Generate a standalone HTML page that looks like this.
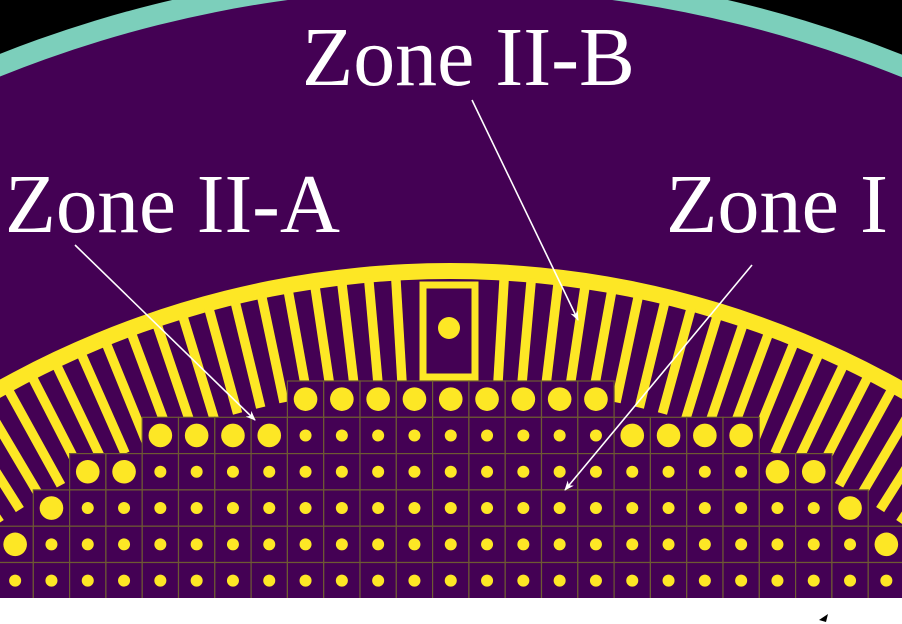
<!DOCTYPE html>
<html><head><meta charset="utf-8"><style>
html,body{margin:0;padding:0;background:#fff;width:902px;height:624px;overflow:hidden;}
svg{display:block;}
</style></head><body>
<svg id="s" width="902" height="624" viewBox="0 0 902 624">
<rect x="0" y="0" width="902" height="598" fill="#000"/>
<g id="vessel"></g>
<g id="slats"></g>
<g id="grid"></g>
<g id="labels"></g>
</svg>
<script>
const rowStartCol=[8,4,2,1,0,0];
const rowEndCol=[16,20,22,23,24,24];
const largeCols=[[8,9,10,11,12,13,14,15,16],[4,5,6,7,17,18,19,20],[2,3,21,22],[1,23],[0,24],[]];
const NS='http://www.w3.org/2000/svg';
const CX=450,CY=1190,P=36.3,X0=-3,Y0=381;
function mk(t,a,p){const e=document.createElementNS(NS,t);for(const k in a)e.setAttribute(k,a[k]);p.appendChild(e);return e;}
const vessel=document.getElementById('vessel');
let e;
e=mk('circle',{cx:CX,cy:CY,r:1222,fill:'#7ccfbb'},vessel);


e=mk('circle',{cx:CX,cy:CY,r:1201,fill:'#440154'},vessel);


e=mk('circle',{cx:CX,cy:CY,r:927,fill:'#fde725'},vessel);


e=mk('circle',{cx:CX,cy:CY,r:911,fill:'#440154'},vessel);


const slats=document.getElementById('slats');
for(let k=-40;k<=40;k++){
  if(Math.abs(k)<2)continue;
  const a=k*1.7*Math.PI/180;
  const s=mk('line',{x1:CX+Math.sin(a)*805,y1:CY-Math.cos(a)*805,x2:CX+Math.sin(a)*915,y2:CY-Math.cos(a)*915,stroke:'#fde725','stroke-width':9.5},slats);
  
  
}
e=mk('rect',{x:423,y:285,width:52,height:92,fill:'#440154',stroke:'#fde725','stroke-width':7},slats);


e=mk('circle',{cx:449,cy:328,r:11,fill:'#fde725'},slats);


const grid=document.getElementById('grid');
for(let r=0;r<rowStartCol.length;r++){
  for(let c=rowStartCol[r];c<=rowEndCol[r];c++){
    const x=X0+c*P,y=Y0+r*P;
    const cell=mk('rect',{x:x,y:y,width:P,height:P,fill:'#440154',stroke:'#6e5a33','stroke-width':1.2},grid);
    
    
    const big=largeCols[r].indexOf(c)>=0;
    const pin=mk('circle',{cx:x+P/2,cy:y+P/2,r:big?11.8:6,fill:'#fde725'},grid);
    
    
  }
}
e=mk('rect',{x:0,y:598,width:902,height:26,fill:'#fff'},grid);


e=mk('path',{d:'M819,620 L828,614 L826,622 Z',fill:'#000'},grid);


const labels=document.getElementById('labels');
mk('defs',{},labels).innerHTML='<marker id="ah" markerWidth="10" markerHeight="8" refX="9" refY="4" orient="auto" markerUnits="userSpaceOnUse"><path d="M0,0 L10,4 L0,8 L3,4 Z" fill="#fff"/></marker>';
const arrows=[[75,245,255,420,'zone-ii-a-arrow'],[472,100,578,320,'zone-ii-b-arrow'],[752,265,565,490,'zone-i-arrow']];
for(const a of arrows){
  const l=mk('line',{x1:a[0],y1:a[1],x2:a[2],y2:a[3],stroke:'#fff','stroke-width':1.6,'marker-end':'url(#ah)'},labels);
  
  
}
const texts=[['Zone II-B',302,85,333,'zone-ii-b-label'],['Zone II-A',5,232,335,'zone-ii-a-label'],['Zone I',666,232,222,'zone-i-label']];
for(const t of texts){
  const tx=mk('text',{x:t[1],y:t[2],textLength:t[3],lengthAdjust:'spacingAndGlyphs',fill:'#fff','font-family':'Liberation Serif, serif','font-size':84},labels);
  tx.textContent=t[0];
  
  
}
</script>
</body></html>
